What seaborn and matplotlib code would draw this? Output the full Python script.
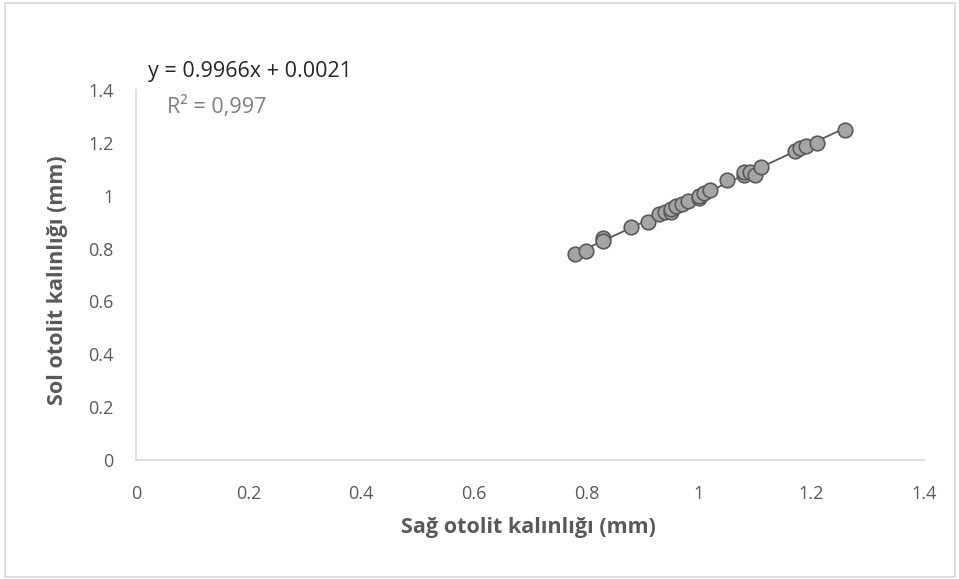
import numpy as np
import pandas as pd
import matplotlib
matplotlib.use('Agg')
import matplotlib.pyplot as plt
import seaborn as sns
from matplotlib.patches import Rectangle

# Okunan değerler (mm)
sag = [0.78, 0.80, 0.83, 0.83, 0.88, 0.91, 0.93, 0.94, 0.95, 0.95, 0.96, 0.97,
       0.98, 1.00, 1.00, 1.01, 1.02, 1.05, 1.08, 1.08, 1.09, 1.10, 1.11, 1.17,
       1.18, 1.19, 1.21, 1.26]
sol = [0.78, 0.79, 0.84, 0.83, 0.88, 0.90, 0.93, 0.94, 0.94, 0.95, 0.96, 0.97,
       0.98, 0.99, 1.00, 1.01, 1.02, 1.06, 1.08, 1.09, 1.09, 1.08, 1.11, 1.17,
       1.18, 1.19, 1.20, 1.25]
denklem = "y = 0.9966x + 0.0021"
r2 = "R² = 0,997"
ticks = [0, 0.2, 0.4, 0.6, 0.8, 1, 1.2, 1.4]
tick_labels = ["0", "0.2", "0.4", "0.6", "0.8", "1", "1.2", "1.4"]

df = pd.DataFrame({'sag': sag, 'sol': sol})

sns.set_style('white')
plt.rcParams['font.family'] = ['Open Sans', 'DejaVu Sans']

fig = plt.figure(figsize=(9.59, 5.79), dpi=100)
ax = fig.add_axes([136 / 959, 1 - 460 / 579, 788 / 959, 370 / 579])

sns.regplot(data=df, x='sag', y='sol', ax=ax, ci=None,
            scatter_kws=dict(s=110, color='#a5a5a5', edgecolor='#595959',
                             linewidths=1.2, alpha=1, zorder=3),
            line_kws=dict(color='#595959', linewidth=1.3, zorder=2))

ax.set_xlim(0, 1.4)
ax.set_ylim(0, 1.4)
ax.set_xticks(ticks)
ax.set_xticklabels(tick_labels)
ax.set_yticks(ticks)
ax.set_yticklabels(tick_labels)
ax.tick_params(axis='both', length=0, labelsize=13, labelcolor='#595959')
ax.tick_params(axis='x', pad=18)
ax.tick_params(axis='y', pad=16)

for s in ['top', 'right']:
    ax.spines[s].set_visible(False)
for s in ['left', 'bottom']:
    ax.spines[s].set_color('#d9d9d9')
    ax.spines[s].set_linewidth(1.2)

ax.set_xlabel('Sağ otolit kalınlığı (mm)', fontsize=15.5, fontweight='bold',
              color='#595959', va='center')
ax.set_ylabel('Sol otolit kalınlığı (mm)', fontsize=15.5, fontweight='bold',
              color='#595959', va='center')
ax.xaxis.set_label_coords((528 - 136) / 788, (460 - 528) / 370)
ax.yaxis.set_label_coords((57 - 136) / 788, (460 - 280) / 370)

fig.text(148 / 959, 1 - 72 / 579, denklem, fontsize=15.5, color='#262626', va='center')
fig.text(167 / 959, 1 - 107 / 579, r2, fontsize=15.5, color='#7f7f7f', va='center')

# dış çerçeve
fig.patches.append(Rectangle((5 / 959, 2 / 579), 950 / 959, 574 / 579,
                             transform=fig.transFigure, fill=False,
                             edgecolor='#d9d9d9', linewidth=1.2))

fig.savefig('out.png', dpi=100)
